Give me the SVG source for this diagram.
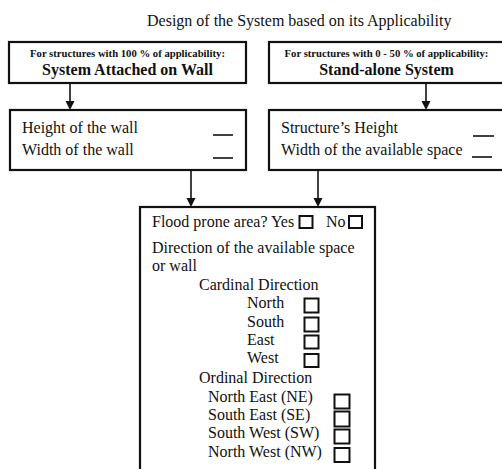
<svg xmlns="http://www.w3.org/2000/svg" width="502" height="469" viewBox="0 0 502 469">
  <defs>
    <style>
      .txt { font-family: "Liberation Serif", "Times New Roman", serif; font-size: 16px; fill: #111; }
      .small { font-family: "Liberation Serif", "Times New Roman", serif; font-size: 10.7px; font-weight: bold; fill: #111; }
      .head { font-family: "Liberation Serif", "Times New Roman", serif; font-size: 16px; font-weight: bold; fill: #111; }
      .box { fill: #fff; stroke: #111; stroke-width: 2.2; }
      .chk { fill: #fff; stroke: #111; stroke-width: 2; }
      .blank { stroke: #111; stroke-width: 1.6; }
      .conn { stroke: #111; stroke-width: 1.6; fill: none; }
      .tip { fill: #111; }
    </style>
  </defs>
  <rect width="502" height="469" fill="#fff"/>

  <text class="txt" x="147" y="26">Design of the System based on its Applicability</text>

  <!-- Connectors with their arrowheads -->
  <g id="connectors">
    <line class="conn" x1="70" y1="83" x2="70" y2="103"/>
    <path class="tip" d="M65.5,101 L74.5,101 L70,110 Z"/>
    <line class="conn" x1="426" y1="83" x2="426" y2="103"/>
    <path class="tip" d="M421.5,101 L430.5,101 L426,110 Z"/>
    <line class="conn" x1="191" y1="170" x2="191" y2="200"/>
    <path class="tip" d="M186.5,198 L195.5,198 L191,207 Z"/>
    <line class="conn" x1="318" y1="170" x2="318" y2="200"/>
    <path class="tip" d="M313.5,198 L322.5,198 L318,207 Z"/>
  </g>

  <g id="wall-system">
    <rect class="box" x="9" y="42" width="237" height="41"/>
    <text class="small" x="127.5" y="57" text-anchor="middle">For structures with 100 % of applicability:</text>
    <text class="head" x="127.5" y="74.5" text-anchor="middle">System Attached on Wall</text>
  </g>

  <g id="standalone-system">
    <rect class="box" x="269" y="42" width="235" height="41"/>
    <text class="small" x="386.5" y="57" text-anchor="middle">For structures with 0 - 50 % of applicability:</text>
    <text class="head" x="386.5" y="74.5" text-anchor="middle">Stand-alone System</text>
  </g>

  <g id="wall-dimensions">
    <rect class="box" x="10" y="110" width="236" height="60"/>
    <text class="txt" x="22" y="133">Height of the wall</text>
    <text class="txt" x="22" y="155">Width of the wall</text>
    <line class="blank" x1="213" y1="135" x2="233" y2="135"/>
    <line class="blank" x1="213" y1="158" x2="233" y2="158"/>
  </g>

  <g id="structure-dimensions">
    <rect class="box" x="269" y="110" width="235" height="60"/>
    <text class="txt" x="281" y="133">Structure’s Height</text>
    <text class="txt" x="281" y="155">Width of the available space</text>
    <line class="blank" x1="473" y1="136" x2="494" y2="136"/>
    <line class="blank" x1="472" y1="157" x2="492" y2="157"/>
  </g>

  <g id="site-details">
    <rect class="box" x="140" y="207" width="235" height="275"/>
    <text class="txt" x="152" y="227">Flood prone area? Yes</text>
    <rect class="chk" x="299.5" y="216" width="13" height="12"/>
    <text class="txt" x="326" y="227">No</text>
    <rect class="chk" x="349" y="216" width="13" height="12"/>
    <text class="txt" x="152" y="253">Direction of the available space</text>
    <text class="txt" x="152" y="271">or wall</text>

    <text class="txt" x="199" y="290">Cardinal Direction</text>
    <text class="txt" x="247" y="308">North</text>
    <rect class="chk" x="304.5" y="298.5" width="14" height="14"/>
    <text class="txt" x="247" y="327">South</text>
    <rect class="chk" x="304.5" y="317.5" width="14" height="14"/>
    <text class="txt" x="247" y="345">East</text>
    <rect class="chk" x="304.5" y="335.5" width="14" height="13"/>
    <text class="txt" x="247" y="363">West</text>
    <rect class="chk" x="304.5" y="354" width="14" height="13"/>

    <text class="txt" x="199" y="383">Ordinal Direction</text>
    <text class="txt" x="208" y="402">North East (NE)</text>
    <rect class="chk" x="334.5" y="394.5" width="15" height="14"/>
    <text class="txt" x="208" y="420">South East (SE)</text>
    <rect class="chk" x="334.5" y="411.5" width="15" height="15"/>
    <text class="txt" x="208" y="438">South West (SW)</text>
    <rect class="chk" x="334.5" y="429.5" width="15" height="14"/>
    <text class="txt" x="208" y="457">North West (NW)</text>
    <rect class="chk" x="334.5" y="448" width="15" height="14"/>
  </g>
</svg>
